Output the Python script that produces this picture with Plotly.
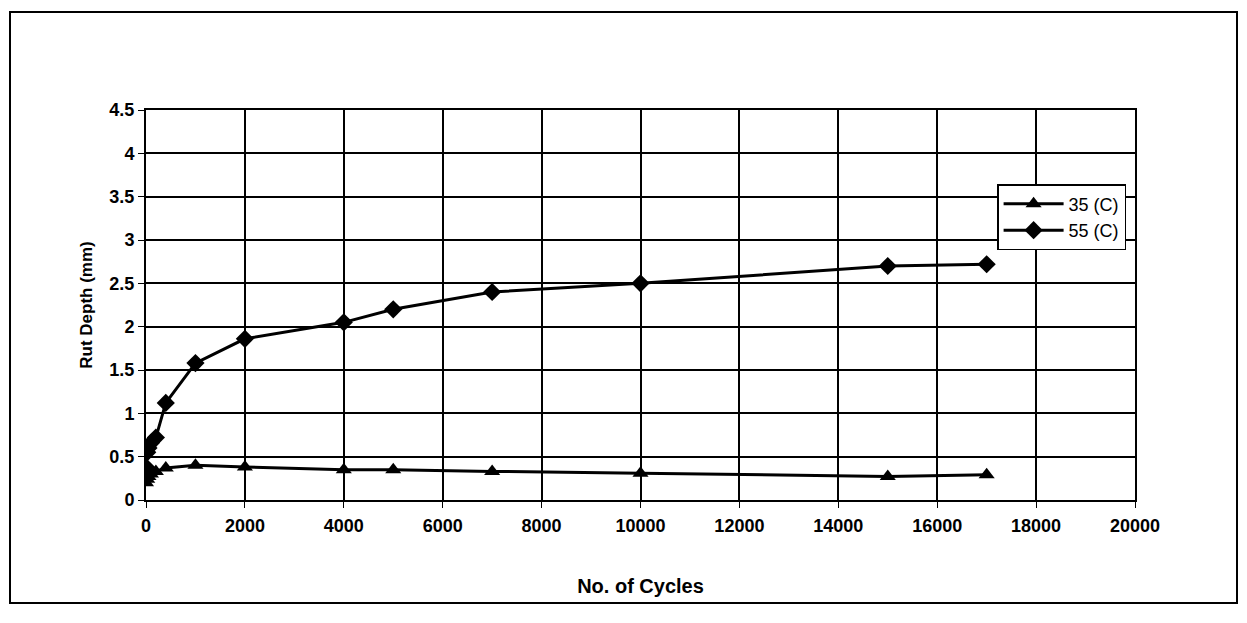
import plotly.graph_objects as go

cycles_35 = [0, 25, 50, 100, 200, 400, 1000, 2000, 4000, 5000, 7000, 10000, 15000, 17000]
rut_35 = [0.2, 0.24, 0.27, 0.3, 0.33, 0.37, 0.4, 0.38, 0.35, 0.35, 0.33, 0.31, 0.27, 0.29]

cycles_55 = [0, 25, 50, 100, 200, 400, 1000, 2000, 4000, 5000, 7000, 10000, 15000, 17000]
rut_55 = [0.38, 0.55, 0.6, 0.66, 0.72, 1.12, 1.58, 1.86, 2.05, 2.2, 2.4, 2.5, 2.7, 2.72]

x_ticks = list(range(0, 20001, 2000))
y_ticks = [0, 0.5, 1, 1.5, 2, 2.5, 3, 3.5, 4, 4.5]
y_labels = ["0", "0.5", "1", "1.5", "2", "2.5", "3", "3.5", "4", "4.5"]

font = "Liberation Sans, Arial, sans-serif"

L, T, W, H = 138, 102, 1247, 623
R, B = 120, 131
pw = W - L - R
ph = H - T - B

fig = go.Figure()
fig.add_trace(go.Scatter(x=cycles_35, y=rut_35, mode="lines+markers", name="35 (C)",
                         line=dict(color="black", width=3),
                         marker=dict(symbol="triangle-up", size=14, color="black")))
fig.add_trace(go.Scatter(x=cycles_55, y=rut_55, mode="lines+markers", name="55 (C)",
                         line=dict(color="black", width=3),
                         marker=dict(symbol="diamond", size=14, color="black")))

fig.update_layout(
    width=W, height=H,
    paper_bgcolor="white", plot_bgcolor="white",
    margin=dict(l=L, r=R, t=T, b=B, autoexpand=False),
    font=dict(family=font, color="black", size=18),
    showlegend=True,
    legend=dict(x=0.991, y=0.81, xanchor="right", yanchor="top",
                bordercolor="black", borderwidth=1.5, bgcolor="white",
                itemwidth=60,
                font=dict(size=18, family=font), tracegroupgap=0),
    xaxis=dict(range=[0, 20000], tickvals=x_ticks, ticktext=[str(v) for v in x_ticks],
               showgrid=True, gridcolor="black", gridwidth=1.5,
               showline=True, linecolor="black", linewidth=2, mirror=True,
               ticks="outside", ticklen=6, tickcolor="black", ticklabelstandoff=2,
               tickfont=dict(size=18, family=font, weight="bold"),
               title=dict(text="<b>No. of Cycles</b>", font=dict(size=20, family=font), standoff=44),
               zeroline=False),
    yaxis=dict(range=[0, 4.5], tickvals=y_ticks, ticktext=y_labels,
               showgrid=True, gridcolor="black", gridwidth=1.5,
               showline=True, linecolor="black", linewidth=2, mirror=True,
               ticks="outside", ticklen=6, tickcolor="black",
               tickfont=dict(size=18, family=font, weight="bold"),
               title=dict(text="<b>Rut Depth (mm)</b>", font=dict(size=17, family=font), standoff=12),
               zeroline=False),
)

fig.add_shape(type="rect", xref="paper", yref="paper",
              x0=(2 - L) / pw, x1=(1229 - L) / pw,
              y0=-(595 - (T + ph)) / ph, y1=((T + ph) - 4) / ph,
              line=dict(color="black", width=2), fillcolor="rgba(0,0,0,0)", layer="below")

fig.write_html("out.html")
